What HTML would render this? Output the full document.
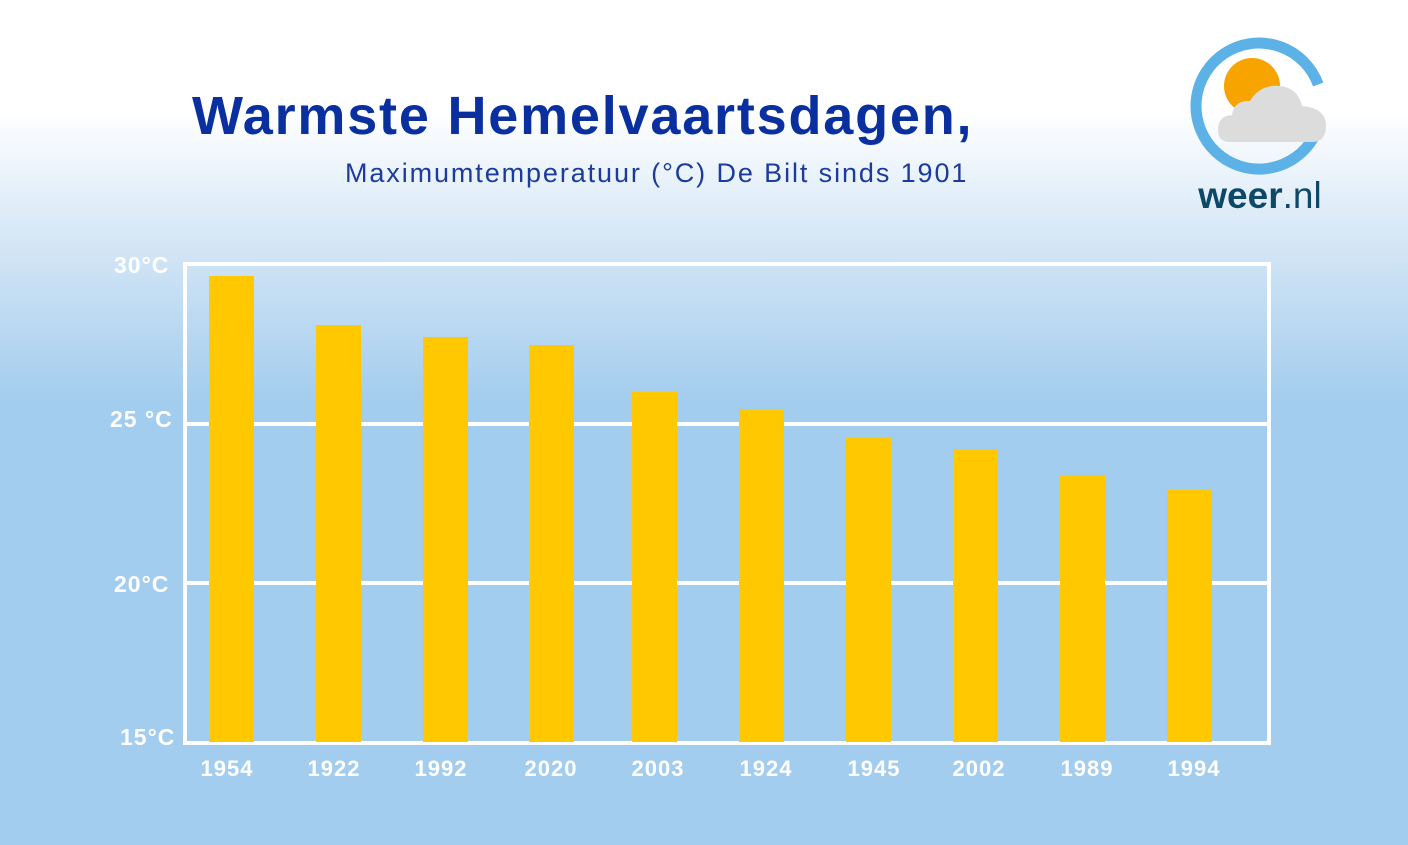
<!DOCTYPE html><html><head><style>
body{margin:0;width:1408px;height:845px;overflow:hidden;background:linear-gradient(#fff 0px,#fff 110px,#cfe3f5 260px,#a3cdee 400px,#a3cdee 845px);font-family:"Liberation Sans",sans-serif;position:relative}
.t{position:absolute;color:#0a2f9e;white-space:nowrap}
.b{position:absolute;background:#ffc800;width:45px}
.yl,.xl{position:absolute;color:#fff;font-weight:bold;font-size:23px;letter-spacing:1px;white-space:nowrap}
.xl{top:756px;width:80px;text-align:center;font-size:22px}
</style></head><body>
<div class="t" style="left:192px;top:85px;font-size:54px;font-weight:bold;letter-spacing:1.8px">Warmste Hemelvaartsdagen,</div>
<div class="t" style="left:345px;top:158px;font-size:27px;color:#1c3b9c;letter-spacing:1.9px">Maximumtemperatuur (°C) De Bilt sinds 1901</div>
<svg style="position:absolute;left:1188px;top:36px" width="145" height="180">
<path d="M130.2 48.5 A63 63 0 1 0 125.6 101.5" fill="none" stroke="#5cb1e6" stroke-width="11"/>
<circle cx="64" cy="50" r="28" fill="#f7a400"/>
<path d="M42 106 Q30 106 30 94 Q30 80 44 79 Q46 64 62 65 Q72 48 92 50 Q110 52 114 70 Q138 72 138 90 Q138 106 124 106 Z" fill="#dcdcdc"/>
<text x="72" y="172" text-anchor="middle" font-family="Liberation Sans" font-size="37" fill="#0e4867"><tspan font-weight="bold">weer</tspan>.nl</text>
</svg>
<svg style="position:absolute;left:0;top:0" width="1408" height="845">
<line x1="185" y1="424" x2="1269" y2="424" stroke="#fff" stroke-width="4"/>
<line x1="185" y1="583" x2="1269" y2="583" stroke="#fff" stroke-width="4"/>
<rect x="185" y="264" width="1084" height="479" fill="none" stroke="#fff" stroke-width="4"/>
</svg>
<div class="b" style="left:209px;top:276px;height:466px"></div>
<div class="b" style="left:316px;top:325px;height:417px"></div>
<div class="b" style="left:423px;top:337px;height:405px"></div>
<div class="b" style="left:529px;top:345px;height:397px"></div>
<div class="b" style="left:632px;top:392px;height:350px"></div>
<div class="b" style="left:739px;top:409px;height:333px"></div>
<div class="b" style="left:846px;top:438px;height:304px"></div>
<div class="b" style="left:953px;top:449px;height:293px"></div>
<div class="b" style="left:1060px;top:475px;height:267px"></div>
<div class="b" style="left:1167px;top:490px;height:252px"></div>
<div class="yl" style="left:114px;top:252px">30°C</div>
<div class="yl" style="left:110px;top:406px">25 °C</div>
<div class="yl" style="left:114px;top:571px">20°C</div>
<div class="yl" style="left:120px;top:724px">15°C</div>
<div class="xl" style="left:187px">1954</div>
<div class="xl" style="left:294px">1922</div>
<div class="xl" style="left:401px">1992</div>
<div class="xl" style="left:511px">2020</div>
<div class="xl" style="left:618px">2003</div>
<div class="xl" style="left:726px">1924</div>
<div class="xl" style="left:834px">1945</div>
<div class="xl" style="left:939px">2002</div>
<div class="xl" style="left:1047px">1989</div>
<div class="xl" style="left:1154px">1994</div>
</body></html>
